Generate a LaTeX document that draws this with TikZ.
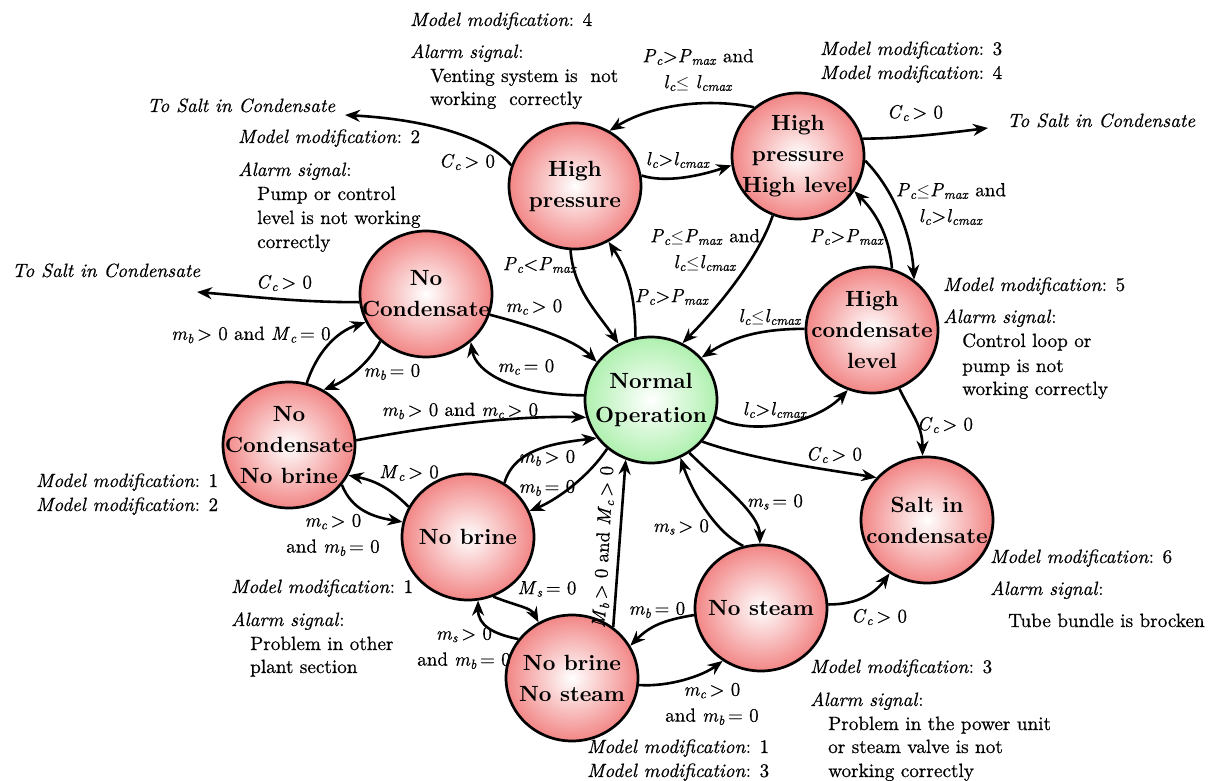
\documentclass[tikz,border=0pt]{standalone}
\usepackage{fontspec}
\setmainfont{lmroman10-regular.otf}[
  BoldFont=lmroman10-bold.otf,
  ItalicFont=lmroman10-italic.otf,
  BoldItalicFont=lmroman10-bolditalic.otf,
  UprightFeatures={FakeBold=0.6},
  ItalicFeatures={FakeBold=0.6}]
\usetikzlibrary{shapes.geometric,arrows.meta}
\definecolor{pinkc}{RGB}{242,134,134}
\definecolor{greenc}{RGB}{175,240,175}
\newcommand{\varsub}[2]{\textit{#1}\textsubscript{\textit{#2}}}
\newcommand{\modmod}[1]{\textit{Model modification}: #1}
\newcommand{\alarmsig}{\textit{Alarm signal}:}
\newcommand{\lesq}{\ensuremath{\leq}}
\begin{document}
\begin{tikzpicture}[x=1pt,y=-1pt,
  stnode/.style={ellipse, draw, line width=2.7pt, minimum width=132pt, minimum height=126pt, inner sep=0pt, inner color=white, outer color=pinkc},
  gstnode/.style={stnode, outer color=greenc},
  stxt/.style={font=\fontsize{22}{31}\selectfont\bfseries, align=center, inner sep=0pt},
  conn/.style={line width=2.6pt, -{Stealth[length=15pt,width=12pt]}},
  cond/.style={font=\fontsize{19}{26}\selectfont, align=center, inner sep=0pt},
  note/.style={font=\fontsize{19.2}{24}\selectfont, anchor=base west, inner sep=0pt},
]
\useasboundingbox (0,0) rectangle (1212,781);

% states
\node[stnode] (HP) at (575,186) {};
\node[stnode] (HH) at (798,156) {};
\node[stnode] (NC) at (426,294) {};
\node[gstnode] (NO) at (651,400) {};
\node[stnode] (HC) at (872,330) {};
\node[stnode] (NN) at (289,445) {};
\node[stnode] (NB) at (468,537) {};
\node[stnode] (BS) at (572,678) {};
\node[stnode] (NS) at (761,608) {};
\node[stnode] (SC) at (927,520) {};

\node[stxt] (HPt) at (HP.center) {High\\pressure};
\node[stxt] (HHt) at (HH.center) {High\\pressure\\High level};
\node[stxt] (NCt) at (NC.center) {No\\Condensate};
\node[stxt, font=\fontsize{22}{34}\selectfont\bfseries] (NOt) at (NO.center) {Normal\\Operation};
\node[stxt] (HCt) at (HC.center) {High\\condensate\\level};
\node[stxt] (NNt) at (NN.center) {No\\Condensate\\No brine};
\node[stxt] (NBt) at (NB.center) {No brine};
\node[stxt] (BSt) at (BS.center) {No brine\\No steam};
\node[stxt] (NSt) at (NS.center) {No steam};
\node[stxt] (SCt) at (SC.center) {Salt in\\condensate};

% free ends
\coordinate (ts1) at (345,115);
\coordinate (ts2) at (988,128);
\coordinate (ts3) at (197,292);
\node[note] (tsl1) at (147,112) {\textit{To Salt in Condensate}};
\node[note] (tsl2) at (1007,127) {\textit{To Salt in Condensate}};
\node[note] (tsl3) at (12,277) {\textit{To Salt in Condensate}};

% connectors
\draw[conn] (HH.132) .. controls +(-50,-10) and +(40,-25) .. (HP.58);
\draw[conn] (HP.9) .. controls +(25,8) and +(-30,10) .. (HH.188);
\draw[conn] (HP.162) .. controls +(-20,-25) and +(90,5) .. (ts1);
\draw[conn] (HH.15) .. controls +(40,0) and +(-40,5) .. (ts2);
\draw[conn] (HH.-4) .. controls +(25,25) and +(-3,-50) .. (HC.50);
\draw[conn] (HC.72) .. controls +(-3,-35) and +(20,20) .. (HH.-32);
\draw[conn] (HH.-113) .. controls +(-15,45) and +(30,-30) .. (NO.61);
\draw[conn] (HP.-94) .. controls +(3,40) and +(-20,-30) .. (NO.120);
\draw[conn] (NO.104) .. controls +(0,-40) and +(20,30) .. (HP.-59);
\draw[conn] (HC.179) .. controls +(-45,0) and +(30,-20) .. (NO.40);
\draw[conn] (NO.-15) .. controls +(38,20) and +(-30,32) .. (HC.-112);
\draw[conn] (HC.-65) .. controls +(12,25) and +(0,-30) .. (SC.94);
\draw[conn] (NO.-39) .. controls +(50,18) and +(-50,-8) .. (SC.140);
\draw[conn] (NO.-54) .. controls +(30,30) and +(0,-30) .. (NS.91);
\draw[conn] (NS.106) .. controls +(-30,-15) and +(10,30) .. (NO.-63);
\draw[conn] (NS.3) .. controls +(30,0) and +(-15,20) .. (SC.-125);
\draw[conn] (NS.-174) .. controls +(-30,5) and +(20,-20) .. (BS.29);
\draw[conn] (BS.-6) .. controls +(30,2) and +(-20,15) .. (NS.-126);
\draw[conn] (BS.51) -- (NO.-113);
\draw[conn] (NB.56) .. controls +(10,-35) and +(-40,5) .. (NO.-145);
\draw[conn] (NO.-132) .. controls +(-20,30) and +(25,-10) .. (NB.23);
\draw[conn] (NB.-67) .. controls +(25,10) and +(-8,-15) .. (BS.121);
\draw[conn] (BS.144) .. controls +(-25,-5) and +(0,25) .. (NB.-81);
\draw[conn] (NB.153) .. controls +(-20,-20) and +(25,5) .. (NN.-27);
\draw[conn] (NN.-37) .. controls +(10,25) and +(-30,-5) .. (NB.167);
\draw[conn] (NN.4) .. controls +(80,-15) and +(-70,-2) .. (NO.-165);
\draw[conn] (NN.74) .. controls +(10,-30) and +(-30,10) .. (NC.-155);
\draw[conn] (NC.-134) .. controls +(-10,20) and +(25,-10) .. (NN.58);
\draw[conn] (NC.-173) .. controls +(-60,0) and +(60,5) .. (ts3);
\draw[conn] (NC.-18) .. controls +(30,8) and +(-25,-25) .. (NO.145);
\draw[conn] (NO.176) .. controls +(-70,0) and +(5,30) .. (NC.-47);

% condition labels
\node[cond] (l1) at (698,70) {\varsub{P}{c}>\varsub{P}{max} and\\\varsub{l}{c}\lesq{} \varsub{l}{cmax}};
\node[cond] (l2) at (678,160) {\varsub{l}{c}>\varsub{l}{cmax}};
\node[cond] (l3) at (467,162) {\varsub{C}{c}\,> 0};
\node[cond] (l4) at (915,113) {\varsub{C}{c}\,> 0};
\node[cond] (l5) at (951,204) {\varsub{P}{c}\lesq\varsub{P}{max} and\\\varsub{l}{c}>\varsub{l}{cmax}};
\node[cond] (l6) at (847,237) {\varsub{P}{c}>\varsub{P}{max}};
\node[cond] (l7) at (705,250) {\varsub{P}{c}\lesq\varsub{P}{max} and\\\varsub{l}{c}\lesq\varsub{l}{cmax}};
\node[cond] (l8) at (540,265) {\varsub{P}{c}<\varsub{P}{max}};
\node[cond] (l9) at (672,297) {\varsub{P}{c}>\varsub{P}{max}};
\node[cond] (l10) at (770,317) {\varsub{l}{c}\lesq\varsub{l}{cmax}};
\node[cond] (l11) at (775,410) {\varsub{l}{c}>\varsub{l}{cmax}};
\node[cond] (l12) at (945,425) {\varsub{C}{c}\,> 0};
\node[cond] (l13) at (834,455) {\varsub{C}{c}\,> 0};
\node[cond] (l14) at (775,502) {\varsub{m}{s}\,= 0};
\node[cond] (l15) at (681,527) {\varsub{m}{s}\,> 0};
\node[cond] (l16) at (879,617) {\varsub{C}{c}\,> 0};
\node[cond] (l17) at (657,610) {\varsub{m}{b}\,= 0};
\node[cond] (l18) at (712,704) {\varsub{m}{c}\,> 0\\and \varsub{m}{b}\,= 0};
\node[cond, rotate=87] (l19) at (604,547) {\varsub{M}{b}\,> 0 and \varsub{M}{c}\,> 0};
\node[cond] (l20) at (547,458) {\varsub{m}{b}\,> 0};
\node[cond] (l21) at (547,488) {\varsub{m}{b}\,= 0};
\node[cond] (l22) at (547,589) {\varsub{M}{s}\,= 0};
\node[cond] (l23) at (464,648) {\varsub{m}{s}\,> 0\\and \varsub{m}{b}\,= 0};
\node[cond] (l24) at (409,473) {\varsub{M}{c}\,> 0};
\node[cond] (l25) at (333,535) {\varsub{m}{c}\,> 0\\and \varsub{m}{b}\,= 0};
\node[cond] (l26) at (460,411) {\varsub{m}{b}\,> 0 and \varsub{m}{c}\,> 0};
\node[cond] (l27) at (251,335) {\varsub{m}{b}\,> 0 and \varsub{M}{c}\,= 0};
\node[cond] (l28) at (392,372) {\varsub{m}{b}\,= 0};
\node[cond] (l29) at (284,283) {\varsub{C}{c}\,> 0};
\node[cond] (l30) at (534,307) {\varsub{m}{c}\,> 0};
\node[cond] (l31) at (526,367) {\varsub{m}{c}\,= 0};

% annotations
\node[note] (n1) at (410,26) {\modmod{4}};
\node[note] (n2) at (410,58) {\alarmsig};
\node[note] (n3) at (430,82) {Venting system is\ \ not};
\node[note] (n4) at (430,105) {working\ \ correctly};
\node[note] (n5) at (820,55) {\modmod{3}};
\node[note] (n6) at (820,79) {\modmod{4}};
\node[note] (n7) at (238,143) {\modmod{2}};
\node[note] (n8) at (238,176) {\alarmsig};
\node[note] (n9) at (257,200) {Pump or control};
\node[note] (n10) at (257,224) {level is not working};
\node[note] (n11) at (257,248) {correctly};
\node[note] (n12) at (36,487) {\modmod{1}};
\node[note] (n13) at (36,511) {\modmod{2}};
\node[note] (n14) at (231,593) {\modmod{1}};
\node[note] (n15) at (231,626) {\alarmsig};
\node[note] (n16) at (250,650) {Problem in other};
\node[note] (n17) at (250,673) {plant section};
\node[note] (n18) at (587,753) {\modmod{1}};
\node[note] (n19) at (587,777) {\modmod{3}};
\node[note] (n20) at (810,673) {\modmod{3}};
\node[note] (n21) at (810,706) {\alarmsig};
\node[note] (n22) at (828,730) {Problem in the power unit};
\node[note] (n23) at (828,753) {or steam valve is not};
\node[note] (n24) at (828,777) {working correctly};
\node[note] (n25) at (990,563) {\modmod{6}};
\node[note] (n26) at (990,595) {\alarmsig};
\node[note] (n27) at (1008,627) {Tube bundle is brocken};
\node[note] (n28) at (943,291) {\modmod{5}};
\node[note] (n29) at (943,323) {\alarmsig};
\node[note] (n30) at (962,347) {Control loop or};
\node[note] (n31) at (962,372) {pump is not};
\node[note] (n32) at (962,395) {working correctly};
\end{tikzpicture}
\end{document}
